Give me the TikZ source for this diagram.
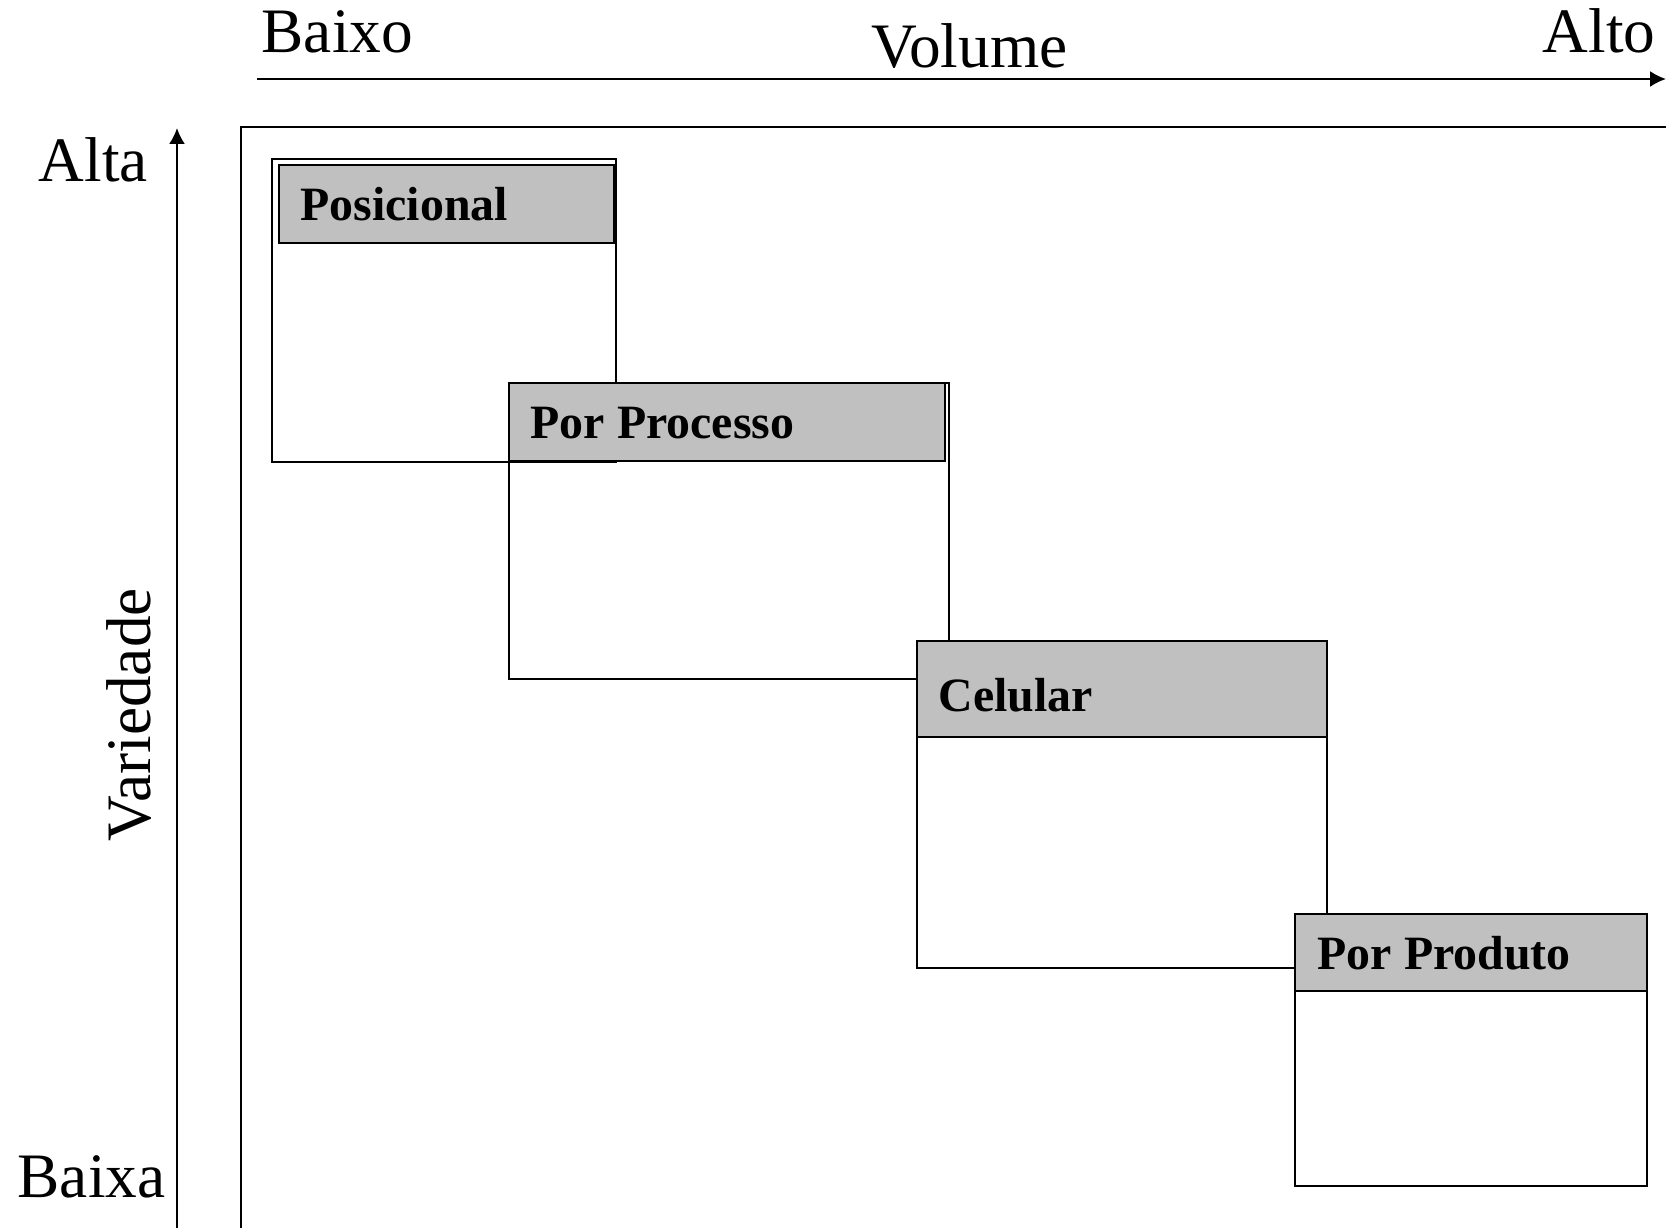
\documentclass[tikz,border=0pt]{standalone}
\usepackage{fontspec}
\setmainfont{Liberation Serif}
\usetikzlibrary{arrows.meta}
\definecolor{cinza}{RGB}{192,192,192}
\tikzset{
  eixo/.style={line width=0.6pt,-{Latex[length=4.5pt,width=4.5pt]}},
  moldura/.style={line width=0.5pt},
  caixa/.style={line width=0.6pt},
  cabecalho/.style={line width=0.8pt,fill=cinza},
  rotulo/.style={font=\fontsize{18}{20}\selectfont,inner sep=0pt,anchor=base west},
  titulo/.style={font=\fontsize{13.6}{16}\selectfont\bfseries,inner sep=0pt,anchor=base west}
}

\begin{document}
\begin{tikzpicture}[x=0.01cm,y=-0.01cm]
                \useasboundingbox(0,0)rectangle(1666,1228);
                \coordinate(VolIni)at(257,79);
                \coordinate(VolFim)at(1666,79);
                \coordinate(VarIni)at(177,1228);
                \coordinate(VarFim)at(177,128);
                \draw[eixo](VolIni)--(VolFim);
                \draw[eixo](VarIni)--(VarFim);
                \draw[moldura](1666,127)--(241,127)--(241,1228);
                \node[rotulo](baixo)at(261,53){Baixo};
                \node[rotulo](volume)at(871,68){Volume};
                \node[rotulo](alto)at(1542,53){Alto};
                \node[rotulo](alta)at(38,182){Alta};
                \node[rotulo](baixa)at(17,1197){Baixa};
                \node[rotulo,rotate=90](variedade)at(150,842){Variedade};
                % posicional
                \draw[caixa](272,159)rectangle(616,462);
                \draw[cabecalho](279,165)rectangle(614,243);
                \node[titulo](posicional)at(300,221){Posicional};
                % por processo
                \draw[caixa](509,383)rectangle(949,679);
                \draw[cabecalho](509,383)rectangle(945,461);
                \node[titulo](processo)at(530,439){Por Processo};
                % celular
                \draw[caixa](917,641)rectangle(1327,968);
                \draw[cabecalho](917,641)rectangle(1327,737);
                \node[titulo](celular)at(938,712){Celular};
                % por produto
                \draw[caixa](1295,914)rectangle(1647,1186);
                \draw[cabecalho](1295,914)rectangle(1647,991);
                \node[titulo](produto)at(1317,970){Por Produto};
            \end{tikzpicture}
\end{document}
